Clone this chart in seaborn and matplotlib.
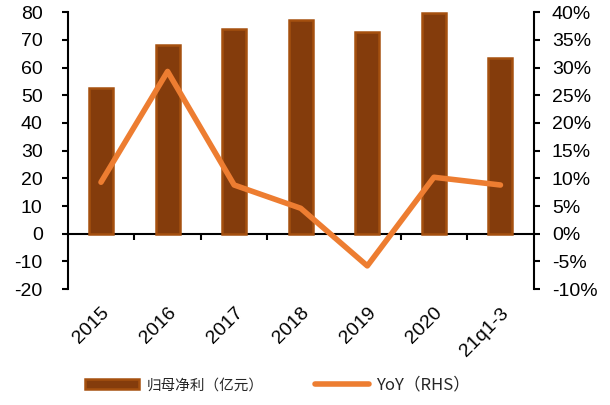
import pandas as pd
import matplotlib.pyplot as plt
import seaborn as sns
import numpy as np
from matplotlib.ticker import PercentFormatter, NullFormatter

periods = ["2015", "2016", "2017", "2018", "2019", "2020", "21q1-3"]
profit = [52.6, 68.0, 73.9, 77.0, 72.8, 79.6, 63.4]   # 归母净利（亿元）
yoy = [9.3, 29.3, 8.8, 4.6, -5.8, 10.2, 8.8]         # YoY %, right axis

sns.set_theme(style="white")
plt.rcParams['font.family'] = ['Liberation Sans', 'Noto Sans CJK SC', 'DejaVu Sans']
plt.rcParams['axes.unicode_minus'] = False

Data = pd.DataFrame({"period": periods, "profit": profit, "yoy": yoy})

fig = plt.figure(figsize=(6.1, 4.05), dpi=100)
ax = fig.add_axes([0.111, 0.286, 0.764, 0.684])

sns.barplot(data=Data, x="period", y="profit", color="#843C0C", width=0.36,
            edgecolor="#A5500F", linewidth=1.8, saturation=1, ax=ax,
            label="归母净利（亿元）")
ax.set_ylim(-20, 80)
ax.set_yticks(range(-20, 81, 10))
ax.set_xlim(-0.5, len(periods) - 0.5)
ax.set_xlabel("")
ax.set_ylabel("")

ax2 = ax.twinx()
sns.lineplot(x=np.arange(len(periods)), y=Data["yoy"], color="#ED7D31",
             linewidth=4, ax=ax2, label="YoY（RHS）", legend=False)
ax2.set_ylim(-10, 40)
ax2.set_yticks(range(-10, 41, 5))
ax2.yaxis.set_major_formatter(PercentFormatter(decimals=0))
ax2.set_ylabel("")

for a in (ax, ax2):
    for s in a.spines.values():
        s.set_visible(False)
ax.spines["left"].set_visible(True)
ax.spines["left"].set_color("black")
ax.spines["left"].set_linewidth(1.5)
ax2.spines["right"].set_visible(True)
ax2.spines["right"].set_color("black")
ax2.spines["right"].set_linewidth(1.5)

ax.tick_params(axis="y", left=True, direction="out", length=4.5, width=1.5,
               labelsize=14, pad=13.5, colors="black")
ax2.tick_params(axis="y", right=True, direction="out", length=4.5, width=1.5,
                labelsize=14, pad=8.5, colors="black")

# category labels under the plot area
ax.set_xticks(range(len(periods)))
ax.set_xticklabels(periods, rotation=45, ha="right", va="top", rotation_mode="anchor")
ax.tick_params(axis="x", bottom=False, labelsize=14, pad=5, colors="black")

# zero line with ticks between categories
zx = ax.secondary_xaxis(0.2)
zx.spines["bottom"].set_color("black")
zx.spines["bottom"].set_linewidth(1.5)
zx.set_xticks(np.arange(0.5, len(periods) - 1, 1))
zx.xaxis.set_major_formatter(NullFormatter())
zx.tick_params(axis="x", direction="out", length=4.5, width=1.5, color="black")

h1, l1 = ax.get_legend_handles_labels()
h2, l2 = ax2.get_legend_handles_labels()
if ax.get_legend():
    ax.get_legend().remove()
leg = fig.legend(h1 + h2, l1 + l2, loc="center", bbox_to_anchor=(0.455, 0.05), ncol=2,
                 frameon=False, handlelength=3.7, columnspacing=3.5, handletextpad=0.5,
                 prop={"family": ["Noto Sans CJK SC", "DejaVu Sans"], "size": 10.5})
leg.get_texts()[1].set_fontsize(12)

fig.savefig("out.png", dpi=100)
